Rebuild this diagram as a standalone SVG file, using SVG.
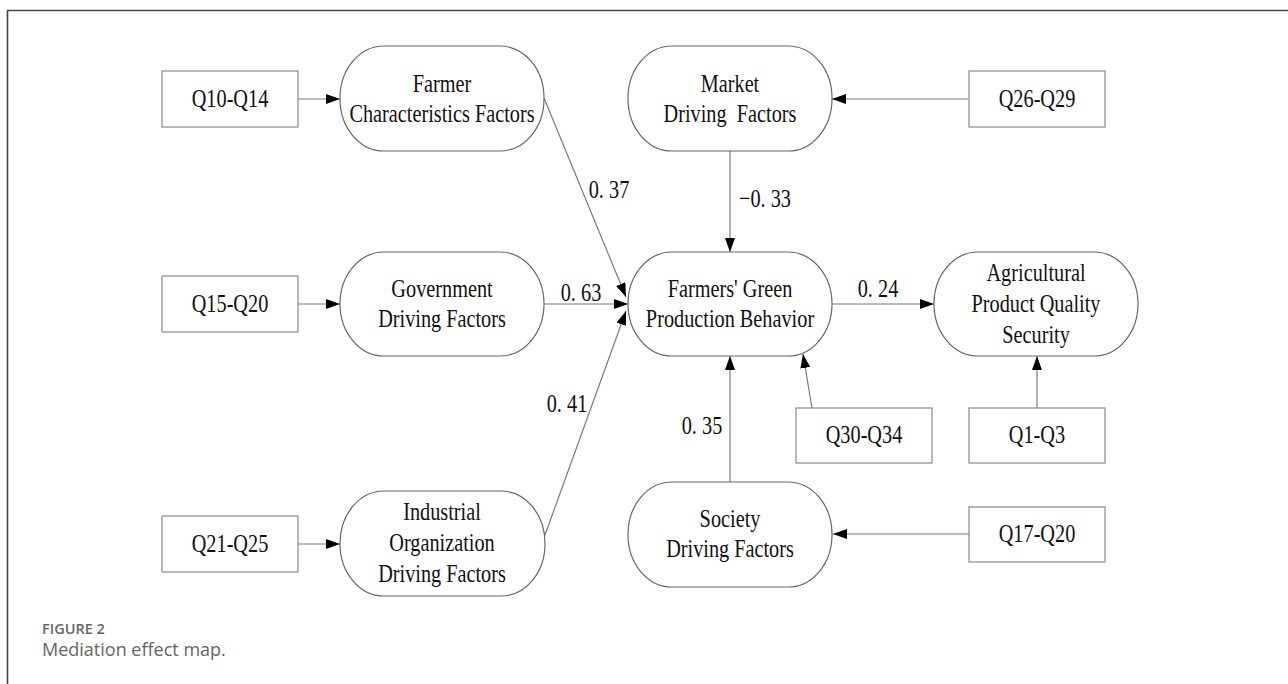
<svg xmlns="http://www.w3.org/2000/svg" width="1288" height="684" viewBox="0 0 1288 684">
<style>
.box{fill:#fff;stroke:#8a8a8a;stroke-width:1.2}
.pill{fill:#fff;stroke:#666;stroke-width:1.2}
.t{font-family:"Liberation Serif","Times New Roman",serif;font-size:26px;fill:#111;text-anchor:middle}
.e{stroke:#7a7a7a;stroke-width:1.2;fill:none;marker-end:url(#ah)}
.cap1{font-family:"Open Sans","Noto Sans",sans-serif;font-size:14.5px;font-weight:600;fill:#666}
.cap2{font-family:"Open Sans","Noto Sans",sans-serif;font-size:18px;fill:#666}
</style>
<defs>
<marker id="ah" markerUnits="userSpaceOnUse" markerWidth="15" markerHeight="11" refX="14" refY="5" orient="auto">
<path d="M0,0 L14,5 L0,10 Z" fill="#000"/>
</marker>
</defs>
<rect width="1288" height="684" fill="#fff"/>
<path d="M7.5,684 V10.5 H1288" fill="none" stroke="#444" stroke-width="1.6"/>

<g id="connectors">
<path class="e" d="M298,99 L340,99"/>
<path class="e" d="M298,304 L340,304"/>
<path class="e" d="M298,544 L340,544"/>
<path class="e" d="M968,99 L832,99"/>
<path class="e" d="M730,151 L730,252"/>
<path class="e" d="M544,98 L626,297"/>
<path class="e" d="M544,304 L628,304"/>
<path class="e" d="M545,535 L626,311"/>
<path class="e" d="M832,304 L934,304"/>
<path class="e" d="M730,482 L730,356"/>
<path class="e" d="M812,408 L803,354"/>
<path class="e" d="M1037,408 L1037,356"/>
<path class="e" d="M969,534 L833,534"/>
</g>

<g id="labels">
<text class="t" transform="translate(609,0) scale(0.78,1)"><tspan x="0" y="198">0. 37</tspan></text>
<text class="t" transform="translate(765,0) scale(0.78,1)"><tspan x="0" y="207">−0. 33</tspan></text>
<text class="t" transform="translate(581,0) scale(0.78,1)"><tspan x="0" y="301">0. 63</tspan></text>
<text class="t" transform="translate(878,0) scale(0.78,1)"><tspan x="0" y="297">0. 24</tspan></text>
<text class="t" transform="translate(567,0) scale(0.78,1)"><tspan x="0" y="412">0. 41</tspan></text>
<text class="t" transform="translate(702,0) scale(0.78,1)"><tspan x="0" y="434">0. 35</tspan></text>
</g>

<g id="q10">
<rect class="box" x="162" y="71" width="136" height="56"/>
<text class="t" transform="translate(230,0) scale(0.78,1)"><tspan x="0" y="107">Q10-Q14</tspan></text>
</g>
<g id="q15">
<rect class="box" x="162" y="276" width="136" height="56"/>
<text class="t" transform="translate(230,0) scale(0.78,1)"><tspan x="0" y="312">Q15-Q20</tspan></text>
</g>
<g id="q21">
<rect class="box" x="162" y="516" width="136" height="56"/>
<text class="t" transform="translate(230,0) scale(0.78,1)"><tspan x="0" y="552">Q21-Q25</tspan></text>
</g>
<g id="q26">
<rect class="box" x="969" y="71" width="136" height="56"/>
<text class="t" transform="translate(1037,0) scale(0.78,1)"><tspan x="0" y="107">Q26-Q29</tspan></text>
</g>
<g id="q30">
<rect class="box" x="796" y="408" width="136" height="55"/>
<text class="t" transform="translate(864,0) scale(0.78,1)"><tspan x="0" y="443.5">Q30-Q34</tspan></text>
</g>
<g id="q1">
<rect class="box" x="969" y="408" width="136" height="55"/>
<text class="t" transform="translate(1037,0) scale(0.78,1)"><tspan x="0" y="443.5">Q1-Q3</tspan></text>
</g>
<g id="q17">
<rect class="box" x="969" y="507" width="136" height="55"/>
<text class="t" transform="translate(1037,0) scale(0.78,1)"><tspan x="0" y="542.5">Q17-Q20</tspan></text>
</g>

<g id="farmer">
<rect class="pill" x="340" y="46" width="204" height="105" rx="44" ry="52"/>
<text class="t" transform="translate(442,0) scale(0.78,1)"><tspan x="0" y="92">Farmer</tspan><tspan x="0" y="122">Characteristics Factors</tspan></text>
</g>
<g id="government">
<rect class="pill" x="340" y="252" width="204" height="104" rx="44" ry="52"/>
<text class="t" transform="translate(442,0) scale(0.78,1)"><tspan x="0" y="297">Government</tspan><tspan x="0" y="327">Driving Factors</tspan></text>
</g>
<g id="industrial">
<rect class="pill" x="340" y="491" width="205" height="105" rx="44" ry="52"/>
<text class="t" transform="translate(442,0) scale(0.78,1)"><tspan x="0" y="520.5">Industrial</tspan><tspan x="0" y="551.5">Organization</tspan><tspan x="0" y="582.5">Driving Factors</tspan></text>
</g>
<g id="market">
<rect class="pill" x="628" y="46" width="204" height="105" rx="44" ry="52"/>
<text class="t" transform="translate(730,0) scale(0.78,1)" xml:space="preserve"><tspan x="0" y="92">Market</tspan><tspan x="0" y="122">Driving  Factors</tspan></text>
</g>
<g id="green">
<rect class="pill" x="628" y="252" width="204" height="104" rx="44" ry="52"/>
<text class="t" transform="translate(730,0) scale(0.78,1)"><tspan x="0" y="297.5">Farmers' Green</tspan><tspan x="0" y="327.5">Production Behavior</tspan></text>
</g>
<g id="agricultural">
<rect class="pill" x="934" y="252" width="204" height="104" rx="44" ry="52"/>
<text class="t" transform="translate(1036,0) scale(0.78,1)"><tspan x="0" y="281.5">Agricultural</tspan><tspan x="0" y="312.5">Product Quality</tspan><tspan x="0" y="343.5">Security</tspan></text>
</g>
<g id="society">
<rect class="pill" x="628" y="482" width="204" height="105" rx="44" ry="52"/>
<text class="t" transform="translate(730,0) scale(0.78,1)"><tspan x="0" y="527.5">Society</tspan><tspan x="0" y="557.5">Driving Factors</tspan></text>
</g>

<g id="caption">
<text class="cap1" x="42" y="634">FIGURE 2</text>
<text class="cap2" x="42" y="656">Mediation effect map.</text>
</g>
</svg>
